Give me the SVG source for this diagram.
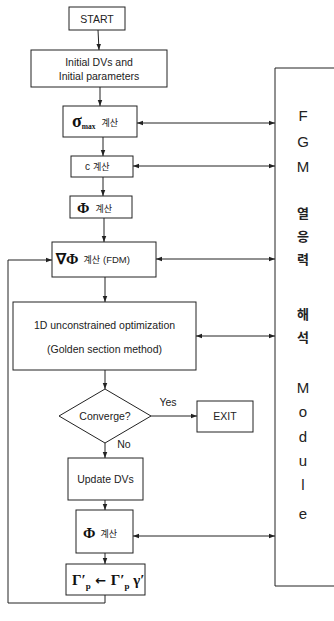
<svg xmlns="http://www.w3.org/2000/svg" width="334" height="621" viewBox="0 0 334 621">
<defs>
<marker id="ah" viewBox="0 0 8 8" refX="8" refY="4" markerWidth="6" markerHeight="6" orient="auto-start-reverse" markerUnits="userSpaceOnUse">
<path d="M0,1 L8,4 L0,7 Z" fill="#222"/>
</marker>
<style>
.b{fill:#fff;stroke:#222;stroke-width:1}
.l{fill:none;stroke:#222;stroke-width:1}
.t{font-family:"Liberation Sans","Noto Sans CJK KR",sans-serif;font-size:10.5px;fill:#222;text-anchor:middle}
.k{font-family:"Noto Sans CJK KR",sans-serif;font-size:9px;fill:#222}
.g{font-family:"Liberation Serif",serif;font-weight:bold;fill:#111}
.m{font-family:"Liberation Sans","Noto Sans CJK KR",sans-serif;font-size:15px;fill:#222;text-anchor:middle}
.mk{font-family:"Noto Sans CJK KR",sans-serif;font-size:13px;font-weight:bold;fill:#222;text-anchor:middle}
</style>
</defs>
<rect width="334" height="621" fill="#fff"/>
<g id="connectors">
<line class="l" x1="98" y1="30" x2="99" y2="50" marker-end="url(#ah)"/>
<line class="l" x1="100" y1="87" x2="100" y2="106" marker-end="url(#ah)"/>
<line class="l" x1="103" y1="137" x2="103" y2="156" marker-end="url(#ah)"/>
<line class="l" x1="103" y1="177" x2="103" y2="196" marker-end="url(#ah)"/>
<line class="l" x1="104" y1="218" x2="104" y2="242" marker-end="url(#ah)"/>
<line class="l" x1="105" y1="277" x2="105" y2="302" marker-end="url(#ah)"/>
<line class="l" x1="105" y1="370" x2="105" y2="389" marker-end="url(#ah)"/>
<line class="l" x1="151" y1="416" x2="197" y2="416" marker-end="url(#ah)"/>
<line class="l" x1="105" y1="443" x2="105" y2="458" marker-end="url(#ah)"/>
<line class="l" x1="105" y1="500" x2="105" y2="510" marker-end="url(#ah)"/>
<line class="l" x1="105" y1="553" x2="105" y2="564" marker-end="url(#ah)"/>
<polyline class="l" points="105,595 105,603 8,603 8,260 52,260" marker-end="url(#ah)"/>
<line class="l" x1="137" y1="123" x2="275" y2="123" marker-start="url(#ah)" marker-end="url(#ah)"/>
<line class="l" x1="133" y1="166" x2="275" y2="166" marker-start="url(#ah)" marker-end="url(#ah)"/>
<line class="l" x1="156" y1="259" x2="275" y2="259" marker-start="url(#ah)" marker-end="url(#ah)"/>
<line class="l" x1="196" y1="336" x2="275" y2="336" marker-start="url(#ah)" marker-end="url(#ah)"/>
<line class="l" x1="133" y1="536" x2="275" y2="536" marker-start="url(#ah)" marker-end="url(#ah)"/>
</g>
<g id="start">
<rect class="b" x="69" y="7" width="56" height="23"/>
<text class="t" x="97" y="22.5">START</text>
</g>
<g id="init">
<rect class="b" x="31" y="50" width="136" height="37"/>
<text class="t" x="99" y="66" font-size="10">Initial DVs and</text>
<text class="t" x="99" y="79.5" font-size="10">Initial parameters</text>
</g>
<g id="sigma">
<rect class="b" x="63" y="106" width="74" height="31"/>
<text x="72" y="127"><tspan class="g" font-size="18">σ</tspan><tspan class="g" font-family="Liberation Sans" font-size="7.5" dy="2">max</tspan><tspan class="k" dx="6" dy="-3">계산</tspan></text>
</g>
<g id="c">
<rect class="b" x="71" y="156" width="62" height="21"/>
<text x="85" y="170"><tspan font-family="Liberation Sans" font-size="10" fill="#222">c</tspan><tspan class="k" dx="3">계산</tspan></text>
</g>
<g id="phi1">
<rect class="b" x="70" y="196" width="62" height="22"/>
<text x="77" y="212.5"><tspan class="g" font-size="15">Φ</tspan><tspan class="k" dx="6" dy="-1">계산</tspan></text>
</g>
<g id="gradphi">
<rect class="b" x="52" y="242" width="104" height="35"/>
<text x="56" y="264"><tspan class="g" font-size="15">∇Φ</tspan><tspan class="k" dx="5" dy="-1">계산</tspan><tspan font-family="Liberation Sans" font-size="9.5" fill="#222" dx="3">(FDM)</tspan></text>
</g>
<g id="opt">
<rect class="b" x="13" y="302" width="183" height="68"/>
<text class="t" x="104.5" y="329">1D unconstrained optimization</text>
<text class="t" x="104.5" y="353">(Golden section method)</text>
</g>
<g id="converge">
<polygon class="b" points="105,389 151,416 105,443 59,416"/>
<text class="t" x="105" y="420" font-size="10">Converge?</text>
<text class="t" x="168" y="406" font-size="9.5">Yes</text>
<text class="t" x="124" y="448" font-size="9.5">No</text>
</g>
<g id="exit">
<rect class="b" x="197" y="401" width="56" height="31"/>
<text class="t" x="225" y="420" font-size="9.5">EXIT</text>
</g>
<g id="update">
<rect class="b" x="68" y="458" width="75" height="42"/>
<text class="t" x="105.5" y="483">Update DVs</text>
</g>
<g id="phi2">
<rect class="b" x="76" y="510" width="57" height="43"/>
<text x="83" y="538"><tspan class="g" font-size="15">Φ</tspan><tspan class="k" dx="5" dy="-1">계산</tspan></text>
</g>
<g id="gamma">
<rect class="b" x="66" y="564" width="79" height="31"/>
<text x="72" y="585" class="g" font-size="15">Γ′<tspan font-size="9" dy="4">p</tspan><tspan dy="-4" font-family="DejaVu Sans" font-weight="bold" font-size="13"> ← </tspan>Γ′<tspan font-size="9" dy="4">p</tspan><tspan dy="-4"> γ′</tspan></text>
</g>
<g id="module">
<polyline class="l" points="340,68 275,68 275,586 340,586"/>
<text class="m" x="303" y="121">F</text>
<text class="m" x="303" y="147">G</text>
<text class="m" x="303" y="172">M</text>
<text class="mk" x="303" y="218">열</text>
<text class="mk" x="303" y="241">응</text>
<text class="mk" x="303" y="264">력</text>
<text class="mk" x="303" y="319">해</text>
<text class="mk" x="303" y="342">석</text>
<text class="m" x="303" y="393">M</text>
<text class="m" x="303" y="417">o</text>
<text class="m" x="303" y="442">d</text>
<text class="m" x="303" y="466">u</text>
<text class="m" x="303" y="490">l</text>
<text class="m" x="303" y="519">e</text>
</g>
</svg>
